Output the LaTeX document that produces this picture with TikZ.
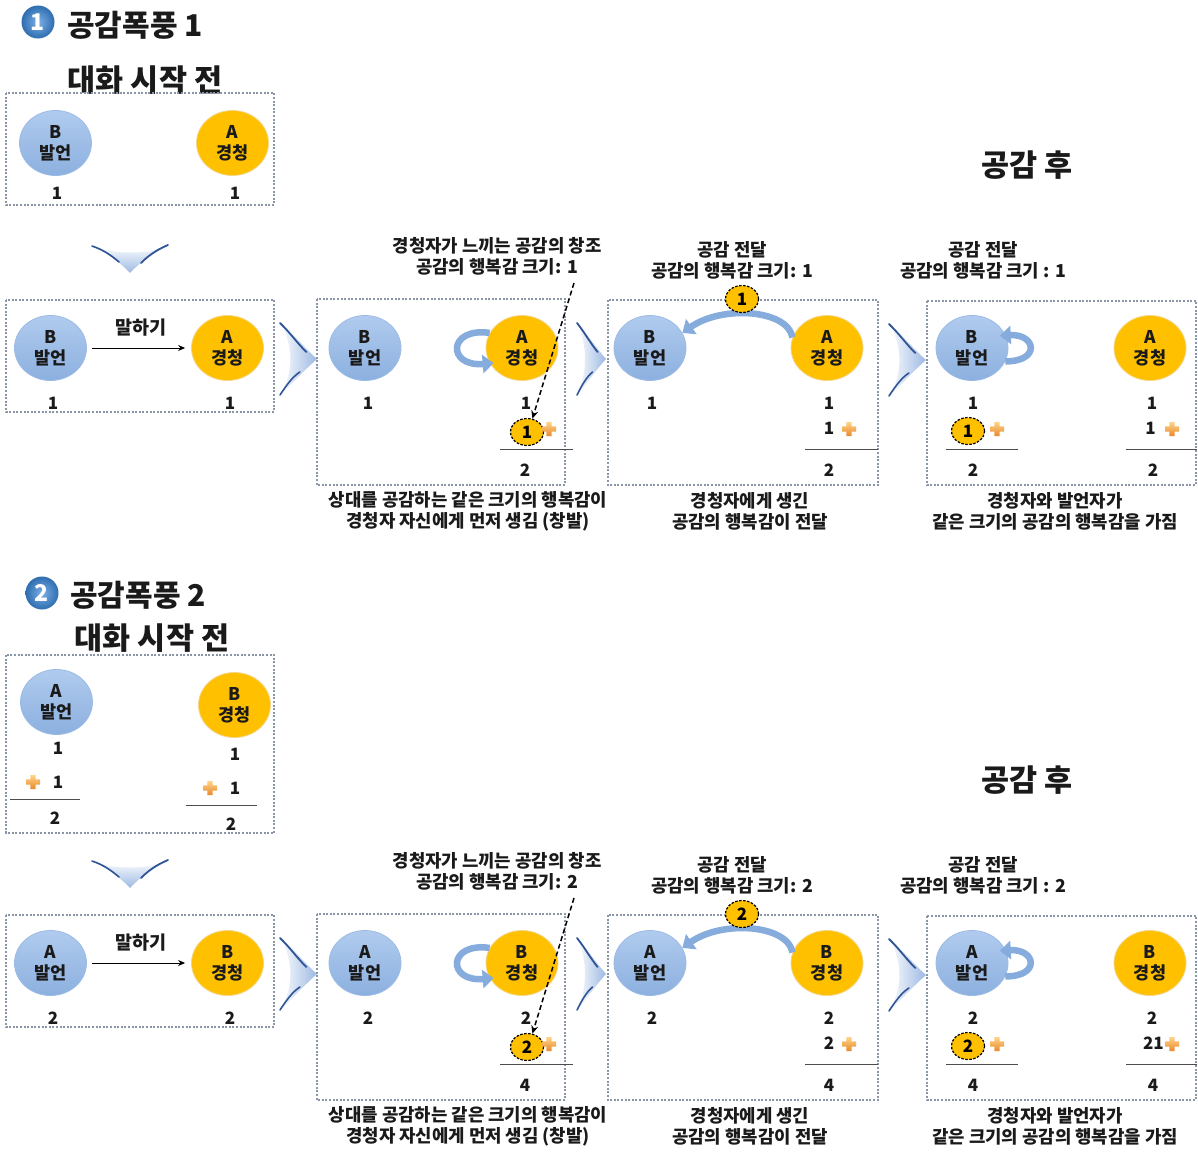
\documentclass[tikz,border=0pt]{standalone}
\usepackage{fontspec}
\setmainfont{Noto Sans CJK KR}
\usetikzlibrary{arrows.meta,shapes.geometric}
\definecolor{spkTop}{HTML}{B0CBEE}
\definecolor{spkBot}{HTML}{8CB0DF}
\definecolor{spkLine}{HTML}{9BBBE5}
\definecolor{lisFill}{HTML}{FFC000}
\definecolor{lisLine}{HTML}{F3D68A}
\definecolor{boxLine}{HTML}{8A96A8}
\definecolor{chevDark}{HTML}{2F5597}
\definecolor{chevLight}{HTML}{9DB9E3}
\definecolor{bandBlue}{HTML}{85ACDC}
\definecolor{plusLight}{HTML}{FFD48A}
\definecolor{plusDark}{HTML}{E8892A}
\definecolor{iconBlue}{HTML}{2E6DB0}
\definecolor{iconLight}{HTML}{7DB0E6}
\definecolor{txt}{HTML}{1A1A1A}
\tikzset{
  spk/.style={ellipse, minimum width=72, minimum height=65, inner sep=0,
    top color=spkTop, bottom color=spkBot, draw=spkLine, line width=0.8,
    align=center, font=\bfseries\fontsize{17.5}{21}\selectfont, text=txt},
  lis/.style={spk, top color=lisFill, bottom color=lisFill, draw=lisLine},
  num/.style={inner sep=0, font=\bfseries\fontsize{17}{17}\selectfont, text=txt},
  lbl/.style={inner sep=0, align=center, font=\bfseries\fontsize{17.8}{21}\selectfont, text=txt},
  bigt/.style={inner sep=0, font=\bfseries\fontsize{30.5}{30.5}\selectfont, text=txt},
  hm/.style={ellipse, fill=lisFill, draw=black, dash pattern=on 2.5pt off 1.5pt,
    line width=1.2, minimum width=33, minimum height=27, inner sep=0,
    font=\bfseries\fontsize{17}{17}\selectfont},
  dbox/.style={draw=boxLine, dash pattern=on 2pt off 1.6pt, line width=1.1},
  sumline/.style={draw=black!70, line width=1},
  band/.style={draw=bandBlue, line width=6.5, -{Triangle[length=11pt, width=18pt]}},
  icon/.style={circle, inner color=iconLight, outer color=iconBlue, minimum size=33, inner sep=0, text=white,
    font=\bfseries\fontsize{23}{23}\selectfont}
}
\newcommand\plusicon[2]{%
  \shade[top color=plusLight, bottom color=plusDark]
    (#1-7,#2-2.6) rectangle (#1+7,#2+2.6)
    (#1-2.6,#2-7) rectangle (#1+2.6,#2+7);}
\newcommand\rchev[3]{%
  \shade[left color=white, right color=chevLight]
    (#1-#3,#2-38) .. controls (#1-0.55*#3,#2-22) and (#1-0.3*#3,#2-10) .. (#1,#2)
    .. controls (#1-0.3*#3,#2+10) and (#1-0.6*#3,#2+22) .. (#1-#3,#2+38)
    .. controls (#1-0.6*#3,#2+15) and (#1-0.6*#3,#2-15) .. cycle;
  \draw[chevDark, line width=1.8, line cap=round]
    (#1-#3+1,#2-36) .. controls (#1-0.7*#3,#2-26) and (#1-0.5*#3,#2-15) .. (#1-0.28*#3,#2-7);
  \draw[chevDark, line width=1.6, line cap=round]
    (#1-#3+1,#2+36) .. controls (#1-0.8*#3,#2+26) and (#1-0.65*#3,#2+18) .. (#1-0.45*#3,#2+13);}
\newcommand\dchev[2]{%
  \shade[top color=white, bottom color=chevLight]
    (#1-40,#2-28) .. controls (#1-25,#2-21) and (#1-10,#2-11) .. (#1,#2)
    .. controls (#1+10,#2-11) and (#1+25,#2-21) .. (#1+40,#2-28)
    .. controls (#1+20,#2-18) and (#1-20,#2-18) .. cycle;
  \draw[chevDark, line width=1.6, line cap=round]
    (#1-38,#2-27) .. controls (#1-26,#2-23) and (#1-18,#2-17) .. (#1-11,#2-11);
  \draw[chevDark, line width=1.8, line cap=round]
    (#1+38,#2-28) .. controls (#1+26,#2-23) and (#1+18,#2-17) .. (#1+11,#2-10);}
% #1 y offset, #2 id, #3 speaker, #4 listener, #5 n, #6 sum, #7 special cell, #8 its east x
\newcommand\rowgroup[8]{%
\begin{scope}[shift={(0,#1)}]
  % box 2: talking
  \draw[dbox] (6,300) rectangle (274,412);
  \node[spk] (sa#2) at (50.5,348) {#3\\발언};
  \node[lis] (la#2) at (227.5,348) {#4\\경청};
  \draw[-{Stealth[length=7pt,width=6pt]}, line width=0.9, shorten <=5pt, shorten >=6pt] (sa#2) -- (la#2);
  \node[lbl, font=\bfseries\fontsize{18.5}{18.5}\selectfont] (say#2) at (141,328) {말하기};
  \node[num] (na1#2) at (53,403) {#5};
  \node[num] (na2#2) at (230,403) {#5};
  \rchev{317}{359}{38}
  % box 3: creation
  \draw[dbox] (317,299) rectangle (565,485);
  \node[spk] (sb#2) at (365,348) {#3\\발언};
  \node[lis] (lb#2) at (522,348) {#4\\경청};
  \draw[band] (lb#2.155) .. controls +(-42,-6) and +(-47,4) .. ([xshift=4pt]lb#2.205);
  \node[lbl] (tb#2) at (497,256.5) {경청자가 느끼는 공감의 창조\\공감의 행복감 크기: #5};
  \node[num] (nb1#2) at (368,403) {#5};
  \node[num] (nb2#2) at (526,403) {#5};
  \node[hm] (mb#2) at (527,432) {#5};
  \plusicon{549}{429}
  \draw[sumline] (500,449.5) -- (573,449.5);
  \node[num] (nb3#2) at (525,470) {#6};
  \coordinate (ds#2) at (574,283);
  \draw[dash pattern=on 5pt off 3pt, line width=1.5, -{Stealth[length=8pt,width=7pt]}] (ds#2) -- (mb#2.68);
  \node[lbl] (ub#2) at (468,511.5) {상대를 공감하는 같은 크기의 행복감이\\경청자 자신에게 먼저 생김 (창발)};
  \rchev{606}{359}{30}
  % box 4: transfer
  \draw[dbox] (608,300) rectangle (878,485);
  \node[spk] (sc#2) at (650,348) {#3\\발언};
  \node[lis] (lc#2) at (827,348) {#4\\경청};
  \draw[band] (lc#2.163) .. controls +(-5,-28) and +(40,-28) .. (sc#2.25);
  \node[hm] (mc#2) at (742,299) {#5};
  \node[lbl] (tc#2) at (732,260) {공감 전달\\공감의 행복감 크기: #5};
  \node[num] (nc1#2) at (652,403) {#5};
  \node[num] (nc2#2) at (829,403) {#5};
  \node[num] (nc3#2) at (829,428) {#5};
  \plusicon{849}{429}
  \draw[sumline] (805,449.5) -- (878,449.5);
  \node[num] (nc4#2) at (829,470) {#6};
  \node[lbl] (uc#2) at (750,511.5) {경청자에게 생긴\\공감의 행복감이 전달};
  \rchev{926}{360}{38}
  % box 5: shared
  \draw[dbox] (927,301) rectangle (1196,485);
  \node[spk] (sd#2) at (972,348) {#3\\발언};
  \node[lis] (ld#2) at (1150,348) {#4\\경청};
  \draw[band] (sd#2.-22) .. controls +(36,0) and +(36,-2) .. ([xshift=-6pt]sd#2.20);
  \node[lbl] (td#2) at (983,260) {공감 전달\\공감의 행복감 크기 : #5};
  \node[num] (nd1#2) at (973,403) {#5};
  \node[hm] (md#2) at (968,431) {#5};
  \plusicon{997}{429}
  \draw[sumline] (946,449.5) -- (1018,449.5);
  \node[num] (nd2#2) at (973,470) {#6};
  \node[num] (nd3#2) at (1152,403) {#5};
  \node[num, anchor=east] (nd4#2) at (#8,428) {#7};
  \plusicon{1172}{429}
  \draw[sumline] (1126,449.5) -- (1197,449.5);
  \node[num] (nd5#2) at (1153,470) {#6};
  \node[lbl] (ud#2) at (1055,511.5) {경청자와 발언자가\\같은 크기의 공감의 행복감을 가짐};
\end{scope}}
\begin{document}
\begin{tikzpicture}[x=1pt, y=-1pt]
  \useasboundingbox[fill=white] (0,0) rectangle (1198,1151);
  % ===== Section 1 =====
  \node[icon] (ic1) at (38,22) {1};
  \node[bigt, anchor=west, font=\bfseries\fontsize{30}{30}\selectfont] (ti1) at (67,25) {공감폭풍 1};
  \node[bigt] (bf1) at (145,80) {대화 시작 전};
  \draw[dbox] (6,93) rectangle (274,205);
  \node[spk] (s0a) at (55.5,143) {B\\발언};
  \node[lis] (l0a) at (232.5,143) {A\\경청};
  \node[num] (n0a1) at (57,193) {1};
  \node[num] (n0a2) at (235,193) {1};
  \node[bigt] (af1) at (1027,165) {공감 후};
  \dchev{130}{273}
  \rowgroup{0}{p}{B}{A}{1}{2}{1}{1156}
  % ===== Section 2 =====
  \node[icon] (ic2) at (42,593) {2};
  \node[bigt, anchor=west, font=\bfseries\fontsize{30}{30}\selectfont] (ti2) at (70,595) {공감폭풍 2};
  \node[bigt] (bf2) at (152,638) {대화 시작 전};
  \draw[dbox] (6,655) rectangle (274,833);
  \node[spk] (s0b) at (56.5,702) {A\\발언};
  \node[lis] (l0b) at (234.5,705) {B\\경청};
  \node[num] (n0b1) at (58,748) {1};
  \plusicon{33}{782}
  \node[num] (n0b2) at (58,782) {1};
  \draw[sumline] (10,799) -- (80,799);
  \node[num] (n0b3) at (55,818) {2};
  \node[num] (n0b4) at (235,754) {1};
  \plusicon{210}{788}
  \node[num] (n0b5) at (235,788) {1};
  \draw[sumline] (186,805) -- (257,805);
  \node[num] (n0b6) at (231,824) {2};
  \node[bigt] (af2) at (1027,780) {공감 후};
  \dchev{130}{888}
  \rowgroup{615}{q}{A}{B}{2}{4}{21}{1164}
\end{tikzpicture}
\end{document}
